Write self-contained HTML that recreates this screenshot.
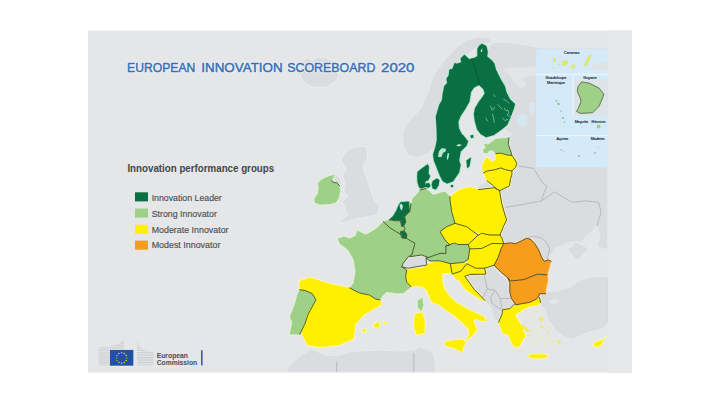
<!DOCTYPE html>
<html><head><meta charset="utf-8">
<style>
html,body{margin:0;padding:0;background:#fff;}
body{width:720px;height:405px;position:relative;overflow:hidden;font-family:"Liberation Sans",sans-serif;}
svg{position:absolute;left:0;top:0;}
</style></head><body>
<svg width="720" height="405" viewBox="0 0 720 405">
<defs>
<pattern id="stripe" width="4" height="1.7" patternUnits="userSpaceOnUse"><rect width="4" height="1.7" fill="#e2e3e5"/><rect width="4" height="0.8" fill="#cdcfd2"/></pattern>
<clipPath id="mapclip"><rect x="88" y="30.6" width="520" height="342.1"/></clipPath>
</defs>
<rect x="88" y="30.6" width="544" height="342.1" fill="#e5e6e8"/>
<rect x="608" y="30.6" width="24" height="342.1" fill="#e7e8e9"/>
<g clip-path="url(#mapclip)">
<g fill="#dadcdf" stroke="#e9ebec" stroke-width="0.7">
<path d="M300,70 L302,62 L307,57.5 L312,60.5 L318,57 L326,58 L334,61 L338,66 L338.5,76 L334,83 L325,87.5 L313,87 L305,83 L301,77 Z" fill="#dadcdf" stroke="#eceef0" stroke-width="0.8"/>
<path d="M353.5,112.5 L355.5,112 L355.5,114.5 L353.8,114.8 Z" fill="#dadcdf" stroke="#eceef0" stroke-width="0.8"/>
<path d="M350,148.75 L355,147.5 L365,146.25 L367.5,151 L367.5,157.5 L362.5,167.5 L365.3,174.1 L368,182 L370.7,190.4 L374.8,201.2 L380.2,206.6 L377.5,214.8 L363.9,217.5 L350.4,220.2 L338.1,224.3 L347.6,214.8 L344.9,208 L342.2,201.2 L347.6,197.1 L343.6,190.4 L344.9,183.6 L342.2,175.4 L346.25,170 L341.25,160 L345,152.5 Z" fill="#dadcdf" stroke="#eceef0" stroke-width="0.8"/>
<path d="M333,178 L334.6,174.9 L338,175.5 L341,179 L341.5,184 L339.6,185.8 L336.6,182.3 L334.6,182.8 L331.7,180.9 Z" fill="#dadcdf" stroke="#eceef0" stroke-width="0.8"/>
<path d="M466.5,40 L454.6,48.9 L444.3,60.7 L436.9,69.6 L432.4,78.5 L429.4,88.9 L425,99.3 L421,108.8 L412.3,117.5 L405.4,126.1 L401.9,134.8 L403.7,146.9 L408.8,155.6 L419.2,157.3 L429.6,152.1 L436.5,146.9 L440,110 L460,60 L480,45 L492,43 L490,38 L478,37 Z"/>
<path d="M487,56 L490,45 L496,42 L506,42 L520,44 L536,47 L540,48 L607.8,48 L607.8,250 L548,256 L551.7,260 L543.3,260 L536.7,245 L528.3,238.3 L516.7,243.3 L503.3,245 L500,235 L506.7,220 L500,190 L508.3,186.7 L514.4,170 L517.8,164.4 L511.1,152.2 L508.9,137.8 L512,134 L504,129 L510,118 L515,104 L510,99 L501,80 L495,67 Z"/>
<path d="M476,189 L480,185 L487.2,180.9 L493.4,185.8 L495.8,188.3 L494.6,187.7 L478.5,189.6 Z"/>
<path d="M464.8,276 L470,274.5 L484.1,274.4 L484.1,266.4 L492.1,264.8 L500.1,274.4 L508.2,280.9 L509.8,292.1 L511.4,298.5 L515,303.6 L509.8,308.6 L502.3,309.8 L502.3,313.5 L498.6,322.2 L493.7,317.8 L491.3,308.2 L485.7,301.7 L480.9,298.5 L472.8,290.5 L466.4,282.5 Z"/>
<path d="M403.3,263.3 L408.3,256.7 L420,254.2 L428.3,258.3 L426.7,265 L416.7,266.7 L408.3,268.3 L401.7,266.7 Z"/>
<path d="M287,372 L287,368 L300,356 L307.5,351.3 L311.7,349.2 L326.3,355.4 L338.8,355.4 L353.3,351.3 L380.4,350.2 L401.3,351.3 L415.8,349.2 L420,347 L430,350 L434,356 L436,372 Z"/>
</g>
<path d="M548.6,256 L551.7,253.3 L556.1,246.7 L561.7,245.6 L567.2,242.2 L576.1,241.1 L581.7,242.2 L585,236.7 L591.7,231.1 L596.1,224.4 L598.3,226.7 L600.6,236.7 L597.2,245.6 L606,249 L607.8,250 L607.8,277.9 L591.1,277.9 L579.3,281.9 L571.4,287.8 L559.5,291.7 L545.7,293.7 L545.7,289.8 L548,280 L550.4,268 Z" fill="#e5e6e8"/>
<g fill="#dadcdf" stroke="#d0d2d5" stroke-width="0.5"><path d="M569.4,248.9 L573.9,246.7 L576,243 L578,244 L580.6,245.6 L583.9,246.7 L587.2,248.9 L582.8,253.3 L578.3,258.9 L575,256.7 L571.7,253.3 Z"/><path d="M537.8,297.7 L545.7,293.7 L559.5,291.7 L571.4,287.8 L579.3,281.9 L591.1,277.9 L607.8,277.9 L607.8,321.4 L603,327.3 L587.2,331.3 L579.3,335.2 L571.4,338.2 L563.5,335.2 L555.6,329.3 L549.6,319.4 L545.7,309.5 L541,303 L538,301 Z"/></g>
<path d="M549.6,300 L555,299.2 L559.5,300.5 L556,303.5 L550,303 Z" fill="#e5e6e8"/>
<path d="M503,69 L512,67 L524,67.5 L536,66 L536,77 L529,75.5 L523,79 L527,85 L521,88.5 L515,83 L509,75 Z" fill="#e2e4e6"/><path d="M517,118 L522,113 L527,116 L527,124 L522,128 L517,125 Z" fill="#d6e6ee"/><path d="M529,103 L534,102 L536,108 L533,114 L529,111 Z" fill="#dbe7ed"/>
<g fill="none" stroke="#acaeb2" stroke-width="0.75">
<path d="M518.3,165.9 L533.9,168.5 L541.6,181.5 L546.8,186.6 L542.9,195.7 L541.6,200.9 L520.9,204.8 L505.4,207.4"/>
<path d="M541.6,200.9 L554.6,191.8 L565,198.3 L572.7,202.2 L585.7,200.9 L598.6,202.2 L601.2,212.5 L598.6,220.3 L597,226"/>
<path d="M526.7,238.2 L533.5,236.1 L541.6,238.2 L547.1,243.6 L549.8,249 L548.4,254.5 L547.1,259.9"/>
<path d="M484.1,274.4 L487.3,288.9 L482.5,298.5"/>
<path d="M487.3,288.9 L495.3,290.5 L500.1,298.5 L511.4,298.5"/>
<path d="M495.3,290.5 L490.5,296.9 L492.1,303.3 L498.5,308.2 L502.3,309.8"/>
<path d="M500.1,298.5 L502.3,309.8"/>
<path d="M336.7,361.7 L336.7,372"/>
<path d="M413.8,353 L413.8,372"/>
</g>
<g fill="none" stroke-linejoin="round">
<path d="M464.3,54.8 L469.4,59.3 L472.4,58.5 L475.4,69.6 L478.3,78.5 L479,85 L474,87.5 L471,92 L469.4,101.7 L465,109.4 L460.6,116.1 L458.3,121.7 L458.9,128.3 L461.7,133.9 L463.5,135.4 L468,141.3 L466.5,145.7 L460.6,151.7 L459.1,160.6 L460.6,165 L459.1,172.4 L453.1,181.3 L447.2,183.5 L442.8,181.3 L439.8,175.4 L436.9,168 L433.9,160.6 L433.1,154.6 L435.4,147.2 L436.9,139.8 L436.7,130 L435.8,116.7 L439.2,105 L442,100 L442.8,93.3 L444.3,85.9 L447.2,83 L446.5,78.5 L448.7,75.6 L449.4,69.6 L452.4,68.9 L454.6,63 L456.9,63.7 L461.3,62.2 L460.6,58.5 Z" stroke="#c2eedb" stroke-width="2.3"/>
<path d="M470,59.3 L473,58.5 L477.4,56.3 L477.4,48.9 L478.9,45.9 L481.9,43.7 L486.3,45.9 L487.8,51.9 L487,56.3 L492.2,60.7 L494.4,63.7 L495.9,69.6 L498.1,74.1 L501.1,80 L504.8,85.9 L506.3,91.9 L510,99.3 L515,103.9 L513.9,108.3 L510.6,117.2 L507.2,125 L501.7,129.4 L493.9,135 L486.1,137.2 L480.6,133.9 L477.2,129.4 L475,121.7 L473.9,113.9 L475,108.3 L478.9,101.7 L481.9,97.8 L484.8,93.3 L483.3,88.9 L479,85 L478.3,78.5 L475.4,69.6 L472.4,58.5 Z" stroke="#c2eedb" stroke-width="2.3"/>
<path d="M470.5,135.5 L473,135 L473.5,137.5 L471,138 Z" stroke="#c2eedb" stroke-width="2.3"/>
<path d="M466.5,160.6 L470.9,157.6 L469.4,166.5 L467.2,168 Z" stroke="#c2eedb" stroke-width="2.3"/>
<path d="M417.6,171.7 L421.8,168.4 L427.6,164.2 L428.9,166.7 L428.5,173.4 L430.2,175.9 L428.5,180.1 L425.1,181.8 L426,186.8 L421.8,188.5 L419.3,187.7 L417.6,182.7 L417.2,176.8 Z" stroke="#c2eedb" stroke-width="2.3"/>
<path d="M426,183.5 L429,183 L430.5,186 L428,188 L425.5,186.5 Z" stroke="#c2eedb" stroke-width="2.3"/>
<path d="M432.7,181 L436.9,178.5 L439.4,180.1 L438.6,185.2 L436,189.4 L432.7,188.5 L431.8,184.3 Z" stroke="#c2eedb" stroke-width="2.3"/>
<path d="M451,185.3 L453,185 L453,187 L451,187 Z" stroke="#c2eedb" stroke-width="2.3"/>
<path d="M389.2,219.8 L393.3,215.7 L396.4,210.5 L398.5,205.3 L400.6,202.2 L408.9,201.6 L411,204.2 L409.9,211.5 L404.7,216.7 L405.8,221.9 L403.7,226 L401.6,226.5 L400.6,220.8 L395.4,220.8 Z" stroke="#c2eedb" stroke-width="2.3"/>
<path d="M400.6,231.5 L404,231 L406.8,234 L406.5,238.5 L402,238 Z" stroke="#c2eedb" stroke-width="2.3"/>
<path d="M317.8,183.8 L319.8,180.9 L324.7,177.9 L329.7,175.9 L334.6,174.9 L333,178 L331.7,180.9 L334.6,182.8 L336.6,182.3 L339.6,185.8 L340,191.7 L338.6,198.6 L335.6,202.6 L329.7,204.1 L319.8,204.6 L314.9,202.6 L314.4,198.6 L317.8,193.7 L318.8,187.8 Z" stroke="#e3f4dc" stroke-width="2.3"/>
<path d="M383.3,221.7 L390.2,228.1 L395.4,231.2 L400.6,234.3 L402,238 L406.5,238.5 L407.5,239 L415,243.3 L411.7,255 L408.3,256.7 L403.3,263.3 L401.7,266.7 L406.7,270 L405.6,276.7 L406.7,282.2 L411.1,286.7 L403.3,293 L396.7,293.3 L386.7,291.7 L381.7,296.7 L380,300 L375.4,298.9 L369.4,295 L359.6,293 L349.7,288 L353.7,283.1 L355.6,271.3 L353.7,259.4 L347.8,249.6 L339.9,243.7 L337.9,238.7 L343.8,236.8 L349.7,238.7 L355.6,235.8 L357.6,230.8 L365.5,234.8 L371.4,231.8 L377.3,227.9 Z" stroke="#e3f4dc" stroke-width="2.3"/>
<path d="M417.8,301.1 L422.2,297.8 L423.3,305.6 L421.1,311.1 L418,307 Z" stroke="#e3f4dc" stroke-width="2.3"/>
<path d="M383.3,221.7 L389.2,219.8 L395.4,220.8 L400.6,220.8 L401.6,226.5 L403.7,226 L405,228.75 L404,231 L400.6,231.5 L400.6,234.3 L395.4,231.2 L390.2,228.1 Z" stroke="#e3f4dc" stroke-width="2.3"/>
<path d="M408.9,201.6 L411,204.2 L413,198 L418,193 L420,190 L426,188.5 L430,192 L433.3,195 L440,193 L445,191.7 L450,196.7 L450,200 L451.7,211.7 L455,223.3 L446.7,226.7 L440,231.7 L445,240 L450,245 L445.9,245.9 L445.9,253.4 L440,253.4 L428.3,257.5 L421.7,255 L410,256.7 L411.7,255 L415,243.3 L406.7,238.3 L406.5,238.5 L406.8,234 L404,231 L405,228.75 L403.7,226 L405.8,221.9 L404.7,216.7 L409.9,211.5 Z" stroke="#e3f4dc" stroke-width="2.3"/>
<path d="M426,258 L428.3,257.5 L440,253.4 L445.9,253.4 L445.9,245.9 L454.8,243 L457.8,244.5 L468.2,244.5 L469.7,248.9 L468.2,259.3 L463.7,262.3 L450.4,263.7 L440,260.8 L430,261 Z" stroke="#e3f4dc" stroke-width="2.3"/>
<path d="M483,149.5 L486.5,148 L489,150 L487.5,153 L484,153 Z" stroke="#e3f4dc" stroke-width="2.3"/>
<path d="M484,144.5 L487,143.5 L487.5,146 L485,146.5 Z" stroke="#e3f4dc" stroke-width="2.3"/>
<path d="M485,146.7 L490,143.3 L495.6,138.9 L508.9,137.8 L508.3,144.4 L511.1,152.2 L511.9,155.6 L507,154.9 L500.8,153.1 L495.8,153.7 L492.2,150 L488,151 Z" stroke="#e3f4dc" stroke-width="2.3"/>
<path d="M299.8,289.8 L305,290.5 L312.1,293.5 L316,299.7 L308,314.5 L304.7,324.4 L301,331.8 L299.8,334.3 L289.9,334.3 L292.3,321.9 L289.9,317 L294.8,304.6 L297.3,294.8 Z" stroke="#e3f4dc" stroke-width="2.3"/>
<path d="M299.8,281.2 L309.6,277.5 L330,284.1 L339.9,286.1 L349.7,288 L359.6,293 L369.4,295 L375.4,298.9 L380,300 L381.2,304.6 L364,314.5 L355.4,324.2 L353.3,338.8 L338.8,345 L320,347.1 L307.5,345 L304.7,339.2 L301,331.8 L304.7,324.4 L307.2,314.5 L316,299.7 L312.1,293.5 L305,290.5 L299.8,289.8 Z" stroke="#f8f6c4" stroke-width="2.3"/>
<path d="M374,324.5 L377,322.5 L380,324 L378,327.5 L374.5,327 Z" stroke="#f8f6c4" stroke-width="2.3"/>
<path d="M363,329.5 L366,329.5 L365,332 L362.5,331.5 Z" stroke="#f8f6c4" stroke-width="2.3"/>
<path d="M383.5,322 L386.5,322.5 L385,324 Z" stroke="#f8f6c4" stroke-width="2.3"/>
<path d="M415,314 L422,312.8 L424.5,320 L424.5,333 L417,334.5 L414,327 Z" stroke="#f8f6c4" stroke-width="2.3"/>
<path d="M406.7,270 L416.7,268.3 L421.7,268.3 L426.7,265 L430,263.3 L440,260.8 L450.4,263.7 L451.9,272.6 L447,273 L442.2,273.3 L442.2,282.2 L444.4,288.9 L448.9,295.6 L455.6,302.2 L463.3,306.7 L471.1,311.1 L476.9,313.6 L484.3,317.3 L485.6,321 L481.9,321 L475.7,318.6 L473.2,321 L476.9,329.7 L472,335.9 L465.8,340.8 L469.5,334.6 L468.3,328.5 L462.1,322.3 L454.7,316.1 L446,309.9 L439.9,305 L432.2,302.2 L428.9,295.6 L426.7,290 L422.2,286.7 L416.7,285.6 L411.1,286.7 L406.7,282.2 L405.6,276.7 Z" stroke="#f8f6c4" stroke-width="2.3"/>
<path d="M444.8,342 L451,340.8 L462.1,339.6 L465.8,342 L463.3,347 L462.1,351.9 L454.7,348.2 L446,345.7 Z" stroke="#f8f6c4" stroke-width="2.3"/>
<path d="M450.4,263.7 L463.7,262.3 L466.7,263.7 L460.8,271.2 L452.2,274.1 L451.9,272.6 Z" stroke="#f8f6c4" stroke-width="2.3"/>
<path d="M466.7,263.7 L475.6,268.2 L484.5,268.2 L486,274.1 L470,274.5 L464.8,276.3 L474.4,289.6 L480.4,295.6 L485,300.5 L478.9,298.5 L470,292.6 L464.1,288.1 L459.6,280.7 L455.9,279.3 L452.2,274.1 L460.8,271.2 Z" stroke="#f8f6c4" stroke-width="2.3"/>
<path d="M469.7,248.9 L481.5,248.5 L491.9,243.5 L503.6,243.6 L500.9,249 L498.2,257.2 L494.1,265.3 L484.5,268.2 L475.6,268.2 L466.7,263.7 L468.2,259.3 Z" stroke="#f8f6c4" stroke-width="2.3"/>
<path d="M469.7,243 L478.3,235 L481.7,233.3 L490,235 L500,235 L502.5,239 L503.6,243.6 L491.9,243.5 L481.5,248.5 L469.7,248.9 L468.2,244.5 Z" stroke="#f8f6c4" stroke-width="2.3"/>
<path d="M440,231.7 L446.7,226.7 L455,223.3 L466.7,226.7 L473.3,231.7 L478.3,235 L469.7,243 L468.2,244.5 L457.8,244.5 L454.8,243 L445.9,245.9 L450,245 L445,240 Z" stroke="#f8f6c4" stroke-width="2.3"/>
<path d="M450,196.7 L460,189.6 L469.9,187.1 L478.5,189.6 L494.6,187.7 L499.6,190.8 L501.7,203.3 L505,215 L506.7,220 L503.3,226.7 L500,235 L490,235 L481.7,233.3 L473.3,231.7 L466.7,226.7 L455,223.3 L451.7,211.7 L450,200 Z" stroke="#f8f6c4" stroke-width="2.3"/>
<path d="M483.5,172.9 L482.2,166.1 L484.7,159.9 L487.2,157.4 L489.5,160 L492.1,161.7 L495.8,159.9 L495.8,153.7 L500.8,153.1 L507,154.9 L511.9,155.6 L514.4,158.7 L516.9,163.6 L515.6,167.3 L511.9,171 L505.7,169.8 L500.8,167.9 L494.6,169.8 L487.2,171 Z" stroke="#f8f6c4" stroke-width="2.3"/>
<path d="M483.5,172.9 L487.2,171 L494.6,169.8 L500.8,167.9 L505.7,169.8 L511.9,171 L511.9,174.7 L510.7,178.4 L509.4,185.8 L507,187.1 L499.6,190.8 L495.8,188.3 L493.4,185.8 L487.2,180.9 Z" stroke="#f8f6c4" stroke-width="2.3"/>
<path d="M498.6,322.2 L502.3,313.5 L502.3,309.8 L509.8,308.6 L515.9,304.9 L522.1,303.6 L529.5,302.4 L536.9,298.7 L539.4,297.5 L540.6,302.4 L538.1,304.9 L530.7,306.1 L524.6,308.6 L520.9,311 L517.2,313.5 L514.7,314.8 L518.4,320.9 L522.1,325.9 L527,329.6 L522.2,329.9 L525.8,335.7 L523.4,338.6 L520.9,343.5 L518.5,347.2 L513.5,346 L511,341 L508.6,334.9 L502.4,332.4 L499.9,325 Z" stroke="#f8f6c4" stroke-width="2.3"/>
<path d="M528.3,355.9 L532,354.6 L541.9,354.6 L548.1,355.2 L545.6,357.7 L537,358.3 L529.6,357.7 Z" stroke="#f8f6c4" stroke-width="2.3"/>
<path d="M593.1,345.1 L597,341.5 L603,340.2 L605,337.2 L601,345.1 L597.1,347.1 Z" stroke="#f8f6c4" stroke-width="2.3"/>
<path d="M503.6,243.6 L510.4,242.9 L515.8,243.6 L521.3,240.9 L526.7,238.2 L530.8,239.5 L534.8,243.6 L538.9,250.4 L541.6,257.2 L544.3,261.3 L548.4,259.9 L551.1,261.3 L549.8,265.3 L548.4,270.8 L547.1,274.8 L537.6,274.2 L532.1,276.2 L524,279.6 L510.4,281 L507.7,277.6 L500.9,272.1 L494.1,265.3 L498.2,257.2 L500.9,249 Z" stroke="#f9e4c6" stroke-width="2.3"/>
<path d="M507.7,277.6 L510.4,281 L524,279.6 L532.1,276.2 L537.6,274.2 L547.1,274.8 L548,280 L545.7,289.8 L545.7,293.7 L539.8,293.7 L537.8,297.7 L536.9,298.7 L529.5,302.4 L522.1,303.6 L515.9,304.9 L515,303.6 L511.4,298.5 L509.8,292.1 L509.8,282.5 Z" stroke="#f9e4c6" stroke-width="2.3"/>
</g>
<path d="M464.3,54.8 L469.4,59.3 L472.4,58.5 L475.4,69.6 L478.3,78.5 L479,85 L474,87.5 L471,92 L469.4,101.7 L465,109.4 L460.6,116.1 L458.3,121.7 L458.9,128.3 L461.7,133.9 L463.5,135.4 L468,141.3 L466.5,145.7 L460.6,151.7 L459.1,160.6 L460.6,165 L459.1,172.4 L453.1,181.3 L447.2,183.5 L442.8,181.3 L439.8,175.4 L436.9,168 L433.9,160.6 L433.1,154.6 L435.4,147.2 L436.9,139.8 L436.7,130 L435.8,116.7 L439.2,105 L442,100 L442.8,93.3 L444.3,85.9 L447.2,83 L446.5,78.5 L448.7,75.6 L449.4,69.6 L452.4,68.9 L454.6,63 L456.9,63.7 L461.3,62.2 L460.6,58.5 Z" fill="#0a7044" stroke="#0a7044" stroke-width="0.3"/>
<path d="M470,59.3 L473,58.5 L477.4,56.3 L477.4,48.9 L478.9,45.9 L481.9,43.7 L486.3,45.9 L487.8,51.9 L487,56.3 L492.2,60.7 L494.4,63.7 L495.9,69.6 L498.1,74.1 L501.1,80 L504.8,85.9 L506.3,91.9 L510,99.3 L515,103.9 L513.9,108.3 L510.6,117.2 L507.2,125 L501.7,129.4 L493.9,135 L486.1,137.2 L480.6,133.9 L477.2,129.4 L475,121.7 L473.9,113.9 L475,108.3 L478.9,101.7 L481.9,97.8 L484.8,93.3 L483.3,88.9 L479,85 L478.3,78.5 L475.4,69.6 L472.4,58.5 Z" fill="#0a7044" stroke="#0a7044" stroke-width="0.3"/>
<path d="M470.5,135.5 L473,135 L473.5,137.5 L471,138 Z" fill="#0a7044" stroke="#0a7044" stroke-width="0.3"/>
<path d="M466.5,160.6 L470.9,157.6 L469.4,166.5 L467.2,168 Z" fill="#0a7044" stroke="#0a7044" stroke-width="0.3"/>
<path d="M417.6,171.7 L421.8,168.4 L427.6,164.2 L428.9,166.7 L428.5,173.4 L430.2,175.9 L428.5,180.1 L425.1,181.8 L426,186.8 L421.8,188.5 L419.3,187.7 L417.6,182.7 L417.2,176.8 Z" fill="#0a7044" stroke="#0a7044" stroke-width="0.3"/>
<path d="M426,183.5 L429,183 L430.5,186 L428,188 L425.5,186.5 Z" fill="#0a7044" stroke="#0a7044" stroke-width="0.3"/>
<path d="M432.7,181 L436.9,178.5 L439.4,180.1 L438.6,185.2 L436,189.4 L432.7,188.5 L431.8,184.3 Z" fill="#0a7044" stroke="#0a7044" stroke-width="0.3"/>
<path d="M451,185.3 L453,185 L453,187 L451,187 Z" fill="#0a7044" stroke="#0a7044" stroke-width="0.3"/>
<path d="M389.2,219.8 L393.3,215.7 L396.4,210.5 L398.5,205.3 L400.6,202.2 L408.9,201.6 L411,204.2 L409.9,211.5 L404.7,216.7 L405.8,221.9 L403.7,226 L401.6,226.5 L400.6,220.8 L395.4,220.8 Z" fill="#0a7044" stroke="#0a7044" stroke-width="0.3"/>
<path d="M400.6,231.5 L404,231 L406.8,234 L406.5,238.5 L402,238 Z" fill="#0a7044" stroke="#0a7044" stroke-width="0.3"/>
<path d="M317.8,183.8 L319.8,180.9 L324.7,177.9 L329.7,175.9 L334.6,174.9 L333,178 L331.7,180.9 L334.6,182.8 L336.6,182.3 L339.6,185.8 L340,191.7 L338.6,198.6 L335.6,202.6 L329.7,204.1 L319.8,204.6 L314.9,202.6 L314.4,198.6 L317.8,193.7 L318.8,187.8 Z" fill="#9fd088" stroke="#9fd088" stroke-width="0.3"/>
<path d="M383.3,221.7 L390.2,228.1 L395.4,231.2 L400.6,234.3 L402,238 L406.5,238.5 L407.5,239 L415,243.3 L411.7,255 L408.3,256.7 L403.3,263.3 L401.7,266.7 L406.7,270 L405.6,276.7 L406.7,282.2 L411.1,286.7 L403.3,293 L396.7,293.3 L386.7,291.7 L381.7,296.7 L380,300 L375.4,298.9 L369.4,295 L359.6,293 L349.7,288 L353.7,283.1 L355.6,271.3 L353.7,259.4 L347.8,249.6 L339.9,243.7 L337.9,238.7 L343.8,236.8 L349.7,238.7 L355.6,235.8 L357.6,230.8 L365.5,234.8 L371.4,231.8 L377.3,227.9 Z" fill="#9fd088" stroke="#9fd088" stroke-width="0.3"/>
<path d="M417.8,301.1 L422.2,297.8 L423.3,305.6 L421.1,311.1 L418,307 Z" fill="#9fd088" stroke="#9fd088" stroke-width="0.3"/>
<path d="M383.3,221.7 L389.2,219.8 L395.4,220.8 L400.6,220.8 L401.6,226.5 L403.7,226 L405,228.75 L404,231 L400.6,231.5 L400.6,234.3 L395.4,231.2 L390.2,228.1 Z" fill="#9fd088" stroke="#9fd088" stroke-width="0.3"/>
<path d="M408.9,201.6 L411,204.2 L413,198 L418,193 L420,190 L426,188.5 L430,192 L433.3,195 L440,193 L445,191.7 L450,196.7 L450,200 L451.7,211.7 L455,223.3 L446.7,226.7 L440,231.7 L445,240 L450,245 L445.9,245.9 L445.9,253.4 L440,253.4 L428.3,257.5 L421.7,255 L410,256.7 L411.7,255 L415,243.3 L406.7,238.3 L406.5,238.5 L406.8,234 L404,231 L405,228.75 L403.7,226 L405.8,221.9 L404.7,216.7 L409.9,211.5 Z" fill="#9fd088" stroke="#9fd088" stroke-width="0.3"/>
<path d="M426,258 L428.3,257.5 L440,253.4 L445.9,253.4 L445.9,245.9 L454.8,243 L457.8,244.5 L468.2,244.5 L469.7,248.9 L468.2,259.3 L463.7,262.3 L450.4,263.7 L440,260.8 L430,261 Z" fill="#9fd088" stroke="#9fd088" stroke-width="0.3"/>
<path d="M483,149.5 L486.5,148 L489,150 L487.5,153 L484,153 Z" fill="#9fd088" stroke="#9fd088" stroke-width="0.3"/>
<path d="M484,144.5 L487,143.5 L487.5,146 L485,146.5 Z" fill="#9fd088" stroke="#9fd088" stroke-width="0.3"/>
<path d="M485,146.7 L490,143.3 L495.6,138.9 L508.9,137.8 L508.3,144.4 L511.1,152.2 L511.9,155.6 L507,154.9 L500.8,153.1 L495.8,153.7 L492.2,150 L488,151 Z" fill="#9fd088" stroke="#9fd088" stroke-width="0.3"/>
<path d="M299.8,289.8 L305,290.5 L312.1,293.5 L316,299.7 L308,314.5 L304.7,324.4 L301,331.8 L299.8,334.3 L289.9,334.3 L292.3,321.9 L289.9,317 L294.8,304.6 L297.3,294.8 Z" fill="#9fd088" stroke="#9fd088" stroke-width="0.3"/>
<path d="M299.8,281.2 L309.6,277.5 L330,284.1 L339.9,286.1 L349.7,288 L359.6,293 L369.4,295 L375.4,298.9 L380,300 L381.2,304.6 L364,314.5 L355.4,324.2 L353.3,338.8 L338.8,345 L320,347.1 L307.5,345 L304.7,339.2 L301,331.8 L304.7,324.4 L307.2,314.5 L316,299.7 L312.1,293.5 L305,290.5 L299.8,289.8 Z" fill="#fef000" stroke="#fef000" stroke-width="0.3"/>
<path d="M374,324.5 L377,322.5 L380,324 L378,327.5 L374.5,327 Z" fill="#fef000" stroke="#fef000" stroke-width="0.3"/>
<path d="M363,329.5 L366,329.5 L365,332 L362.5,331.5 Z" fill="#fef000" stroke="#fef000" stroke-width="0.3"/>
<path d="M383.5,322 L386.5,322.5 L385,324 Z" fill="#fef000" stroke="#fef000" stroke-width="0.3"/>
<path d="M415,314 L422,312.8 L424.5,320 L424.5,333 L417,334.5 L414,327 Z" fill="#fef000" stroke="#fef000" stroke-width="0.3"/>
<path d="M406.7,270 L416.7,268.3 L421.7,268.3 L426.7,265 L430,263.3 L440,260.8 L450.4,263.7 L451.9,272.6 L447,273 L442.2,273.3 L442.2,282.2 L444.4,288.9 L448.9,295.6 L455.6,302.2 L463.3,306.7 L471.1,311.1 L476.9,313.6 L484.3,317.3 L485.6,321 L481.9,321 L475.7,318.6 L473.2,321 L476.9,329.7 L472,335.9 L465.8,340.8 L469.5,334.6 L468.3,328.5 L462.1,322.3 L454.7,316.1 L446,309.9 L439.9,305 L432.2,302.2 L428.9,295.6 L426.7,290 L422.2,286.7 L416.7,285.6 L411.1,286.7 L406.7,282.2 L405.6,276.7 Z" fill="#fef000" stroke="#fef000" stroke-width="0.3"/>
<path d="M444.8,342 L451,340.8 L462.1,339.6 L465.8,342 L463.3,347 L462.1,351.9 L454.7,348.2 L446,345.7 Z" fill="#fef000" stroke="#fef000" stroke-width="0.3"/>
<path d="M450.4,263.7 L463.7,262.3 L466.7,263.7 L460.8,271.2 L452.2,274.1 L451.9,272.6 Z" fill="#fef000" stroke="#fef000" stroke-width="0.3"/>
<path d="M466.7,263.7 L475.6,268.2 L484.5,268.2 L486,274.1 L470,274.5 L464.8,276.3 L474.4,289.6 L480.4,295.6 L485,300.5 L478.9,298.5 L470,292.6 L464.1,288.1 L459.6,280.7 L455.9,279.3 L452.2,274.1 L460.8,271.2 Z" fill="#fef000" stroke="#fef000" stroke-width="0.3"/>
<path d="M469.7,248.9 L481.5,248.5 L491.9,243.5 L503.6,243.6 L500.9,249 L498.2,257.2 L494.1,265.3 L484.5,268.2 L475.6,268.2 L466.7,263.7 L468.2,259.3 Z" fill="#fef000" stroke="#fef000" stroke-width="0.3"/>
<path d="M469.7,243 L478.3,235 L481.7,233.3 L490,235 L500,235 L502.5,239 L503.6,243.6 L491.9,243.5 L481.5,248.5 L469.7,248.9 L468.2,244.5 Z" fill="#fef000" stroke="#fef000" stroke-width="0.3"/>
<path d="M440,231.7 L446.7,226.7 L455,223.3 L466.7,226.7 L473.3,231.7 L478.3,235 L469.7,243 L468.2,244.5 L457.8,244.5 L454.8,243 L445.9,245.9 L450,245 L445,240 Z" fill="#fef000" stroke="#fef000" stroke-width="0.3"/>
<path d="M450,196.7 L460,189.6 L469.9,187.1 L478.5,189.6 L494.6,187.7 L499.6,190.8 L501.7,203.3 L505,215 L506.7,220 L503.3,226.7 L500,235 L490,235 L481.7,233.3 L473.3,231.7 L466.7,226.7 L455,223.3 L451.7,211.7 L450,200 Z" fill="#fef000" stroke="#fef000" stroke-width="0.3"/>
<path d="M483.5,172.9 L482.2,166.1 L484.7,159.9 L487.2,157.4 L489.5,160 L492.1,161.7 L495.8,159.9 L495.8,153.7 L500.8,153.1 L507,154.9 L511.9,155.6 L514.4,158.7 L516.9,163.6 L515.6,167.3 L511.9,171 L505.7,169.8 L500.8,167.9 L494.6,169.8 L487.2,171 Z" fill="#fef000" stroke="#fef000" stroke-width="0.3"/>
<path d="M483.5,172.9 L487.2,171 L494.6,169.8 L500.8,167.9 L505.7,169.8 L511.9,171 L511.9,174.7 L510.7,178.4 L509.4,185.8 L507,187.1 L499.6,190.8 L495.8,188.3 L493.4,185.8 L487.2,180.9 Z" fill="#fef000" stroke="#fef000" stroke-width="0.3"/>
<path d="M498.6,322.2 L502.3,313.5 L502.3,309.8 L509.8,308.6 L515.9,304.9 L522.1,303.6 L529.5,302.4 L536.9,298.7 L539.4,297.5 L540.6,302.4 L538.1,304.9 L530.7,306.1 L524.6,308.6 L520.9,311 L517.2,313.5 L514.7,314.8 L518.4,320.9 L522.1,325.9 L527,329.6 L522.2,329.9 L525.8,335.7 L523.4,338.6 L520.9,343.5 L518.5,347.2 L513.5,346 L511,341 L508.6,334.9 L502.4,332.4 L499.9,325 Z" fill="#fef000" stroke="#fef000" stroke-width="0.3"/>
<path d="M528.3,355.9 L532,354.6 L541.9,354.6 L548.1,355.2 L545.6,357.7 L537,358.3 L529.6,357.7 Z" fill="#fef000" stroke="#fef000" stroke-width="0.3"/>
<path d="M593.1,345.1 L597,341.5 L603,340.2 L605,337.2 L601,345.1 L597.1,347.1 Z" fill="#fef000" stroke="#fef000" stroke-width="0.3"/>
<path d="M503.6,243.6 L510.4,242.9 L515.8,243.6 L521.3,240.9 L526.7,238.2 L530.8,239.5 L534.8,243.6 L538.9,250.4 L541.6,257.2 L544.3,261.3 L548.4,259.9 L551.1,261.3 L549.8,265.3 L548.4,270.8 L547.1,274.8 L537.6,274.2 L532.1,276.2 L524,279.6 L510.4,281 L507.7,277.6 L500.9,272.1 L494.1,265.3 L498.2,257.2 L500.9,249 Z" fill="#f79d1d" stroke="#f79d1d" stroke-width="0.3"/>
<path d="M507.7,277.6 L510.4,281 L524,279.6 L532.1,276.2 L537.6,274.2 L547.1,274.8 L548,280 L545.7,289.8 L545.7,293.7 L539.8,293.7 L537.8,297.7 L536.9,298.7 L529.5,302.4 L522.1,303.6 L515.9,304.9 L515,303.6 L511.4,298.5 L509.8,292.1 L509.8,282.5 Z" fill="#f79d1d" stroke="#f79d1d" stroke-width="0.3"/>
<g fill="#b8e6d4">
<path d="M438,157 L438.8,151.5 L441.5,148.3 L445.5,148.5 L446,151 L443,153 L441.5,157 Z"/>
<path d="M447.8,153 L449.2,153.5 L448.5,158 L447,160.5 L446.8,157 Z"/>
<path d="M456,145.5 L459,144 L462,145 L459,146.5 Z"/>
<path d="M481.3,49.5 L482.5,48.5 L482,52 L480.5,52 Z"/>
<path d="M399.5,205 L401.5,203.5 L403,206 L402,210.5 L400.3,209 Z"/>
</g>
<g fill="none" stroke="#8fd3bb" stroke-width="0.9" stroke-linecap="round" stroke-linejoin="round" opacity="0.75">
<path d="M503.7,99.4 L506,100.5 L508.9,103.1"/>
<path d="M490.4,106 L492.5,110.3 L494.8,107"/>
<path d="M497.8,104.6 L500,107 L502.2,109.1"/>
<path d="M504.4,108.3 L506,111 L508,110 L509,113 L507,115 L510.5,116.5"/>
<path d="M492.6,114.3 L493.5,118 L494.3,122.4"/>
<path d="M502.2,118 L505,120.5 L508.1,119"/>
<path d="M494,95 L495,96.5"/>
<path d="M486,118 L487.5,121"/>
</g>
<g fill="#efe873">
<circle cx="532.8" cy="314.4" r="0.85"/>
<circle cx="536" cy="311" r="0.85"/>
<circle cx="528" cy="317" r="0.85"/>
<circle cx="531" cy="322" r="0.85"/>
<circle cx="534" cy="328" r="0.85"/>
<circle cx="537" cy="333" r="0.85"/>
<circle cx="541" cy="337" r="0.85"/>
<circle cx="531" cy="339" r="0.85"/>
<circle cx="544" cy="330" r="0.85"/>
<circle cx="548" cy="336" r="0.85"/>
<circle cx="553" cy="341" r="0.85"/>
<circle cx="554.3" cy="347" r="0.85"/>
<circle cx="549" cy="342" r="0.85"/>
<circle cx="545" cy="344" r="0.85"/>
<circle cx="538" cy="341" r="0.85"/>
<circle cx="535" cy="345" r="0.85"/>
<circle cx="528" cy="335" r="0.85"/>
<circle cx="547.2" cy="332.8" r="0.85"/>
<circle cx="551" cy="328" r="0.85"/>
<circle cx="526" cy="312" r="0.85"/>
<circle cx="520" cy="351" r="0.85"/>
<circle cx="512" cy="324" r="0.85"/>
<circle cx="509" cy="329" r="0.85"/>
<circle cx="531" cy="331" r="0.85"/>
<circle cx="454" cy="354" r="0.7"/></g>
<g fill="#f0ea6a"><path d="M520,324 L524,325 L530,331 L527.5,332.5 L521,327.5 Z"/><ellipse cx="541" cy="319" rx="2.6" ry="2"/><ellipse cx="541.7" cy="326.7" rx="1.4" ry="1.6"/><ellipse cx="559" cy="342.2" rx="1.6" ry="2.4"/><ellipse cx="547.5" cy="332" rx="1.4" ry="0.9"/></g>
<g fill="none" stroke="#3f4a24" stroke-width="0.95" stroke-linejoin="round" stroke-linecap="round" opacity="0.9">
<path d="M299.8,289.8 L305,290.5 L312.1,293.5 L316,299.7 L308,314.5 L304.7,324.4 L301,331.8 L299.8,334.3"/>
<path d="M349.7,288 L359.6,293 L369.4,295 L375.4,298.9 L380,300"/>
<path d="M383.3,221.7 L390.2,228.1 L395.4,231.2 L400.6,234.3 L402,238 L406.5,238.5 L407.5,239 L415,243.3 L411.7,255 L408.3,256.7 L403.3,263.3 L401.7,266.7 L406.7,270 L405.6,276.7 L406.7,282.2 L411.1,286.7"/>
<path d="M389.2,219.8 L395.4,220.8 L400.6,220.8 L401.6,226.5 L403.7,226 L405,228.75 L404,231 L400.6,231.5 L400.6,234.3"/>
<path d="M411,204.2 L409.9,211.5 L404.7,216.7 L405.8,221.9 L403.7,226"/>
<path d="M404,231 L406.8,234 L406.5,238.5"/>
<path d="M410,256.7 L421.7,255 L428.3,257.5 L440,253.4 L445.9,253.4 L445.9,245.9 L450,245 L445,240 L440,231.7 L446.7,226.7 L455,223.3 L451.7,211.7 L450,200 L450,196.7"/>
<path d="M420,190 L426,188.5"/>
<path d="M455,223.3 L466.7,226.7 L473.3,231.7 L478.3,235 L481.7,233.3 L490,235 L500,235 L503.3,226.7 L506.7,220 L505,215 L501.7,203.3 L499.6,190.8 L494.6,187.7 L478.5,189.6"/>
<path d="M478.3,235 L469.7,243 L468.2,244.5 L469.7,248.9 L468.2,259.3 L463.7,262.3 L450.4,263.7 L440,260.8 L430,261 L426,258 L428.3,257.5"/>
<path d="M445.9,245.9 L454.8,243 L457.8,244.5 L468.2,244.5"/>
<path d="M401.7,266.7 L408.3,268.3 L416.7,266.7 L426.7,265 L426,258"/>
<path d="M469.7,248.9 L481.5,248.5 L491.9,243.5 L503.6,243.6 L502.5,239 L500,235"/>
<path d="M503.6,243.6 L500.9,249 L498.2,257.2 L494.1,265.3 L484.5,268.2 L475.6,268.2 L466.7,263.7 L460.8,271.2 L452.2,274.1 L451.9,272.6 L450.4,263.7"/>
<path d="M484.5,268.2 L486,274.1 L470,274.5 L464.8,276.3 L474.4,289.6 L480.4,295.6 L485,300.5"/>
<path d="M503.6,243.6 L510.4,242.9 L515.8,243.6 L521.3,240.9 L526.7,238.2 L530.8,239.5 L534.8,243.6 L538.9,250.4 L541.6,257.2 L544.3,261.3 L548.4,259.9 L551.1,261.3"/>
<path d="M494.1,265.3 L500.9,272.1 L507.7,277.6 L510.4,281 L524,279.6 L532.1,276.2 L537.6,274.2 L547.1,274.8"/>
<path d="M507.7,277.6 L509.8,282.5 L509.8,292.1 L511.4,298.5 L515,303.6 L515.9,304.9 L522.1,303.6 L529.5,302.4 L536.9,298.7 L537.8,297.7 L539.8,293.7 L545.7,293.7"/>
<path d="M539.4,297.5 L540.6,302.4"/>
<path d="M515,303.6 L509.8,308.6 L502.3,309.8 L502.3,313.5 L498.6,322.2"/>
<path d="M495.8,153.7 L500.8,153.1 L507,154.9 L511.9,155.6 L511.1,152.2 L508.3,144.4 L508.9,137.8"/>
<path d="M483.5,172.9 L487.2,171 L494.6,169.8 L500.8,167.9 L505.7,169.8 L511.9,171 L515.6,167.3 L516.9,163.6 L514.4,158.7 L511.9,155.6"/>
<path d="M511.9,171 L511.9,174.7 L510.7,178.4 L509.4,185.8 L507,187.1 L499.6,190.8"/>
<path d="M487.2,180.9 L493.4,185.8 L495.8,188.3 L499.6,190.8"/>
<path d="M331.7,180.9 L334.6,182.8 L336.6,182.3 L339.6,185.8"/>
</g>
<path d="M472.4,58.5 L475.4,69.6 L478.3,78.5 L479,85" fill="none" stroke="#064a2b" stroke-width="0.8"/>
</g>
<!-- inset -->
<rect x="536.2" y="49.2" width="71.9" height="118" fill="#d5eaf8"/>
<path d="M593,64 L600,62 L608,61.5 L608,70 L596,70 L592,68 Z" fill="#dfe3e6"/>
<rect x="573.6" y="80" width="34.4" height="36" fill="#dde3e7"/>
<g stroke="#f4f8fb" stroke-width="0.9"><line x1="536.2" y1="74.3" x2="608" y2="74.3"/><line x1="573.2" y1="74.3" x2="573.2" y2="116.3"/><line x1="536.2" y1="135.4" x2="608" y2="135.4"/></g>
<path d="M581.6,81.9 L577.9,86.8 L577.3,91.8 L580.3,97.9 L581,101.6 L578.5,107.8 L576.6,111.5 L580.3,113.4 L592.7,112.7 L598.9,106.6 L602.6,97.9 L603.8,94.2 L598.9,88 L589,83.1 Z" fill="#9fd088" stroke="#4a6238" stroke-width="0.8"/>
<g fill="#e4e96a" stroke="#d2dc4a" stroke-width="0.4">
<path d="M553,59 L555,58.5 L555.5,61.5 L553.5,62 Z"/>
<path d="M562,62 L565,60.5 L568,61.5 L566.5,65 L563,65.5 Z"/>
<circle cx="573" cy="66.5" r="2"/>
<path d="M584,65 L589,55.5 L591,55 L590,58 L586.5,66 Z"/>
<circle cx="559.5" cy="64.5" r="0.7"/><circle cx="553.5" cy="68" r="0.6"/>
</g>
<circle cx="573" cy="66.5" r="0.8" fill="#d5eaf8"/>
<circle cx="598.6" cy="126.5" r="2" fill="#9fd088"/>
<g fill="#86c09a"><circle cx="552" cy="88" r="0.5"/><circle cx="556.5" cy="101" r="0.9"/><circle cx="558.5" cy="104" r="1.2"/><circle cx="561" cy="111" r="0.8"/><circle cx="563" cy="118" r="1.1"/><circle cx="564.5" cy="122" r="0.7"/><circle cx="561" cy="150" r="0.8"/><circle cx="564" cy="151" r="0.6"/><circle cx="579" cy="156" r="0.9"/><circle cx="595" cy="153" r="0.9"/><circle cx="582" cy="127" r="0.5"/><circle cx="598" cy="147" r="0.5"/></g>
<g font-family="Liberation Sans" font-size="3.8" fill="#15191c" stroke="#15191c" stroke-width="0.12" text-anchor="middle">
<text x="571.7" y="54.4">Canarias</text>
<text x="555.9" y="79.4">Guadeloupe</text><text x="555.9" y="84.4">Martinique</text>
<text x="589.9" y="78.9">Guyane</text>
<text x="581.4" y="122.9">Mayotte</text><text x="598.6" y="122.9">Réunion</text>
<text x="562.3" y="140.2">Açores</text><text x="597.5" y="140.2">Madeira</text>
</g>
<!-- EC logo -->
<path d="M98.6,347.6 Q118,346.5 124,339.5 L124,365.7 L98.6,365.7 Z" fill="url(#stripe)"/>
<path d="M137,339.5 Q139,351.5 153.7,352.1 L153.7,365.5 L137,365.5 Z" fill="url(#stripe)"/>
<rect x="109.4" y="349.4" width="24.5" height="16.8" fill="#eef3f9"/>
<rect x="109.9" y="349.9" width="23.5" height="15.8" fill="#2151a0"/>
<g fill="#ffdd00">
<circle cx="121.6" cy="352.8" r="0.75"/><circle cx="124.3" cy="353.5" r="0.75"/><circle cx="126.2" cy="355.4" r="0.75"/><circle cx="126.9" cy="358" r="0.6"/><circle cx="126.2" cy="360.6" r="0.75"/><circle cx="124.3" cy="362.5" r="0.75"/><circle cx="121.6" cy="363.2" r="0.75"/><circle cx="118.9" cy="362.5" r="0.75"/><circle cx="117" cy="360.6" r="0.6"/><circle cx="116.3" cy="358" r="0.6"/><circle cx="117" cy="355.4" r="0.6"/><circle cx="118.9" cy="353.5" r="0.75"/>
</g>
<rect x="201" y="350.2" width="1.6" height="15.2" fill="#3d5f9c"/>
<g font-family="Liberation Sans" fill="none" stroke="#eef2f7" stroke-width="2.4" stroke-linejoin="round" font-size="13.6">
<text x="127.1" y="72" textLength="68.2" lengthAdjust="spacingAndGlyphs">EUROPEAN</text>
<text x="201.3" y="72" textLength="81.4" lengthAdjust="spacingAndGlyphs">INNOVATION</text>
<text x="287.2" y="72" textLength="88.2" lengthAdjust="spacingAndGlyphs">SCOREBOARD</text>
<text x="381.1" y="72" textLength="33.3" lengthAdjust="spacingAndGlyphs">2020</text>
</g>
<g font-family="Liberation Sans" fill="#3a70b4" stroke="#3a70b4" stroke-width="0.5" font-size="13.6">
<text x="127.1" y="72" textLength="68.2" lengthAdjust="spacingAndGlyphs">EUROPEAN</text>
<text x="201.3" y="72" textLength="81.4" lengthAdjust="spacingAndGlyphs">INNOVATION</text>
<text x="287.2" y="72" textLength="88.2" lengthAdjust="spacingAndGlyphs">SCOREBOARD</text>
<text x="381.1" y="72" textLength="33.3" lengthAdjust="spacingAndGlyphs">2020</text>
</g>
<g font-family="Liberation Sans" fill="#45474a" font-weight="bold" font-size="10.4">
<text x="127.4" y="171.5" textLength="146.8" lengthAdjust="spacingAndGlyphs">Innovation performance groups</text>
</g>
<rect x="135" y="192.3" width="13" height="9.1" fill="#0a7044"/>
<rect x="135" y="208.5" width="13" height="9.1" fill="#9fd088"/>
<rect x="135" y="224.7" width="13" height="9.1" fill="#fef000"/>
<rect x="135" y="240.6" width="13" height="9.1" fill="#f79d1d"/>
<g font-family="Liberation Sans" fill="#4d4f52" stroke="#4d4f52" stroke-width="0.15" font-size="8.8">
<text x="151.7" y="200.7" textLength="70.1" lengthAdjust="spacingAndGlyphs">Innovation Leader</text>
<text x="151.7" y="216.6" textLength="65.2" lengthAdjust="spacingAndGlyphs">Strong Innovator</text>
<text x="151.7" y="232.5" textLength="76.9" lengthAdjust="spacingAndGlyphs">Moderate Innovator</text>
<text x="151.7" y="248.4" textLength="68.7" lengthAdjust="spacingAndGlyphs">Modest Innovator</text>
</g>
<g font-family="Liberation Sans" fill="#4a4c50" font-weight="bold" font-size="7.2">
<text x="156.7" y="357.5" textLength="31.3" lengthAdjust="spacingAndGlyphs">European</text>
<text x="156.7" y="365.4" textLength="40.5" lengthAdjust="spacingAndGlyphs">Commission</text>
</g>
</svg>
</body></html>
